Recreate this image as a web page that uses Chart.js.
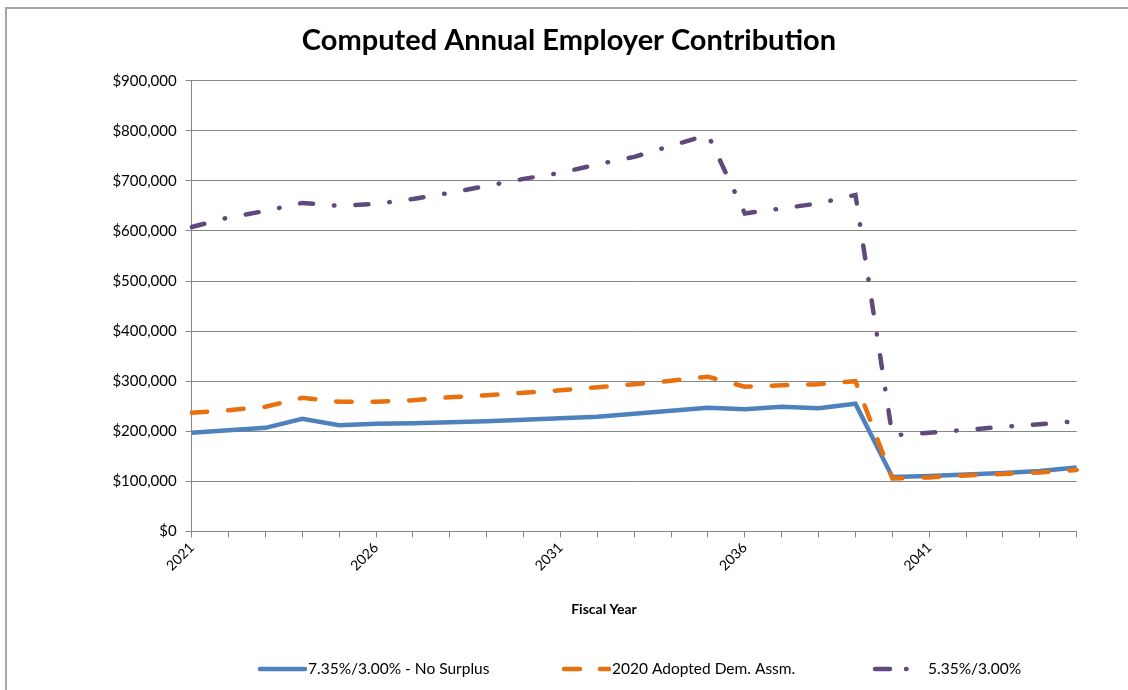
<!DOCTYPE html>
<html>
<head>
<meta charset="utf-8">
<script src="https://cdn.jsdelivr.net/npm/chart.js@4/dist/chart.umd.min.js"></script>
<style>
  body { margin: 0; background: #fff; }
  #wrap { position: relative; width: 1128px; height: 690px; }
  #frame { position: absolute; left: 5px; top: 7px; width: 1140px; height: 700px;
           border-top: 2px solid #a6a6a6; border-left: 2px solid #a6a6a6; }
  canvas { position: absolute; left: 0; top: 0; }
</style>
</head>
<body>
<div id="wrap">
  <div id="frame"></div>
  <canvas id="canvas" width="1128" height="690"></canvas>
</div>
<script>
// anos fiscais
var anos = ['2021','2022','2023','2024','2025','2026','2027','2028','2029','2030',
            '2031','2032','2033','2034','2035','2036','2037','2038','2039','2040',
            '2041','2042','2043','2044','2045'];

// 7.35%/3.00% - No Surplus
var semSuperavit = [197000, 202000, 207000, 225000, 212000, 215000, 216000, 218000, 220000, 223000,
                    226000, 229000, 235000, 241000, 247000, 244000, 249000, 246000, 255000, 109000,
                    111000, 114000, 117000, 121000, 128000];

// 2020 Adopted Dem. Assm.
var adotado2020 = [237000, 242000, 249000, 267000, 259000, 259000, 262000, 268000, 272000, 277000,
                   282000, 288000, 294000, 301000, 309000, 289000, 292000, 294000, 300000, 106000,
                   108000, 112000, 115000, 118000, 123000];

// 5.35%/3.00%
var taxa535 = [608000, 627000, 640000, 656000, 650000, 654000, 664000, 676000, 690000, 704000,
               716000, 733000, 748000, 770000, 792000, 635000, 645000, 655000, 672000, 192000,
               197000, 203000, 209000, 214000, 220000];

var rotulos = ['7.35%/3.00% - No Surplus', '2020 Adopted Dem. Assm.', '5.35%/3.00%'];
var cores = ['#4f81bd', '#e8700e', '#604a7b'];

var fonte = 'Lato, "Open Sans", sans-serif';

// titulo, legenda e titulo do eixo desenhados a mao (posicao igual ao excel)
var extras = {
  id: 'extras',
  afterDraw: function(chart) {
    var ctx = chart.ctx;
    ctx.save();
    ctx.fillStyle = '#000';
    ctx.textAlign = 'center';
    ctx.textBaseline = 'middle';
    ctx.font = 'bold 29px ' + fonte;
    ctx.fillText('Computed Annual Employer Contribution', 569, 41);

    ctx.font = 'bold 14px ' + fonte;
    ctx.fillText('Fiscal Year', 604, 609);

    var xs = [258, 562, 873];
    var tracos = [[], [16, 20], [15, 16, 0.5, 16]];
    var y = 669;
    ctx.font = '15.5px ' + fonte;
    ctx.textAlign = 'left';
    for (var i = 0; i < 3; i++) {
      ctx.strokeStyle = cores[i];
      ctx.lineWidth = 4.5;
      ctx.lineCap = 'round';
      ctx.setLineDash(tracos[i]);
      ctx.beginPath();
      ctx.moveTo(xs[i] + 2, y);
      ctx.lineTo(xs[i] + 47, y);
      ctx.stroke();
      ctx.setLineDash([]);
      ctx.fillText(rotulos[i], xs[i] + (i == 2 ? 55 : 50), y);
    }
    ctx.restore();
  }
};

var ctx = document.getElementById('canvas').getContext('2d');
window.myLine = new Chart(ctx, {
  type: 'line',
  data: {
    labels: anos,
    datasets: [{
      label: rotulos[0],
      data: semSuperavit,
      borderColor: cores[0],
      borderWidth: 4.5,
      pointRadius: 0,
      tension: 0,
      order: 3
    }, {
      label: rotulos[1],
      data: adotado2020,
      borderColor: cores[1],
      borderWidth: 4.5,
      borderDash: [15.5, 21],
      borderCapStyle: 'round',
      pointRadius: 0,
      tension: 0,
      order: 2
    }, {
      label: rotulos[2],
      data: taxa535,
      borderColor: cores[2],
      borderWidth: 4.5,
      borderDash: [13, 21, 0.5, 21],
      borderCapStyle: 'round',
      pointRadius: 0,
      tension: 0,
      order: 1
    }]
  },
  options: {
    responsive: false,
    animation: false,
    layout: { padding: { left: 5, right: 51.3, top: 80.7, bottom: 58.5 } },
    plugins: {
      legend: { display: false },
      tooltip: { enabled: false },
      title: { display: false }
    },
    scales: {
      x: {
        afterFit: function(scale) { scale.height = 100; },
        border: { color: '#868686', width: 1 },
        grid: { drawOnChartArea: false, drawTicks: true, tickLength: 6, color: '#868686' },
        ticks: {
          autoSkip: false,
          maxRotation: 45,
          minRotation: 45,
          color: '#000',
          padding: 2,
          font: { family: fonte, size: 14 },
          callback: function(valor, indice) {
            return indice % 5 == 0 ? anos[indice] : '';
          }
        }
      },
      y: {
        min: 0,
        max: 900000,
        afterFit: function(scale) { scale.width = 186.7; },
        border: { color: '#868686', width: 1 },
        grid: { color: '#868686', tickLength: 6 },
        ticks: {
          stepSize: 100000,
          color: '#000',
          padding: 9,
          font: { family: fonte, size: 15 },
          callback: function(valor) {
            return '$' + valor.toLocaleString('en-US');
          }
        }
      }
    }
  },
  plugins: [extras]
});
</script>
</body>
</html>
